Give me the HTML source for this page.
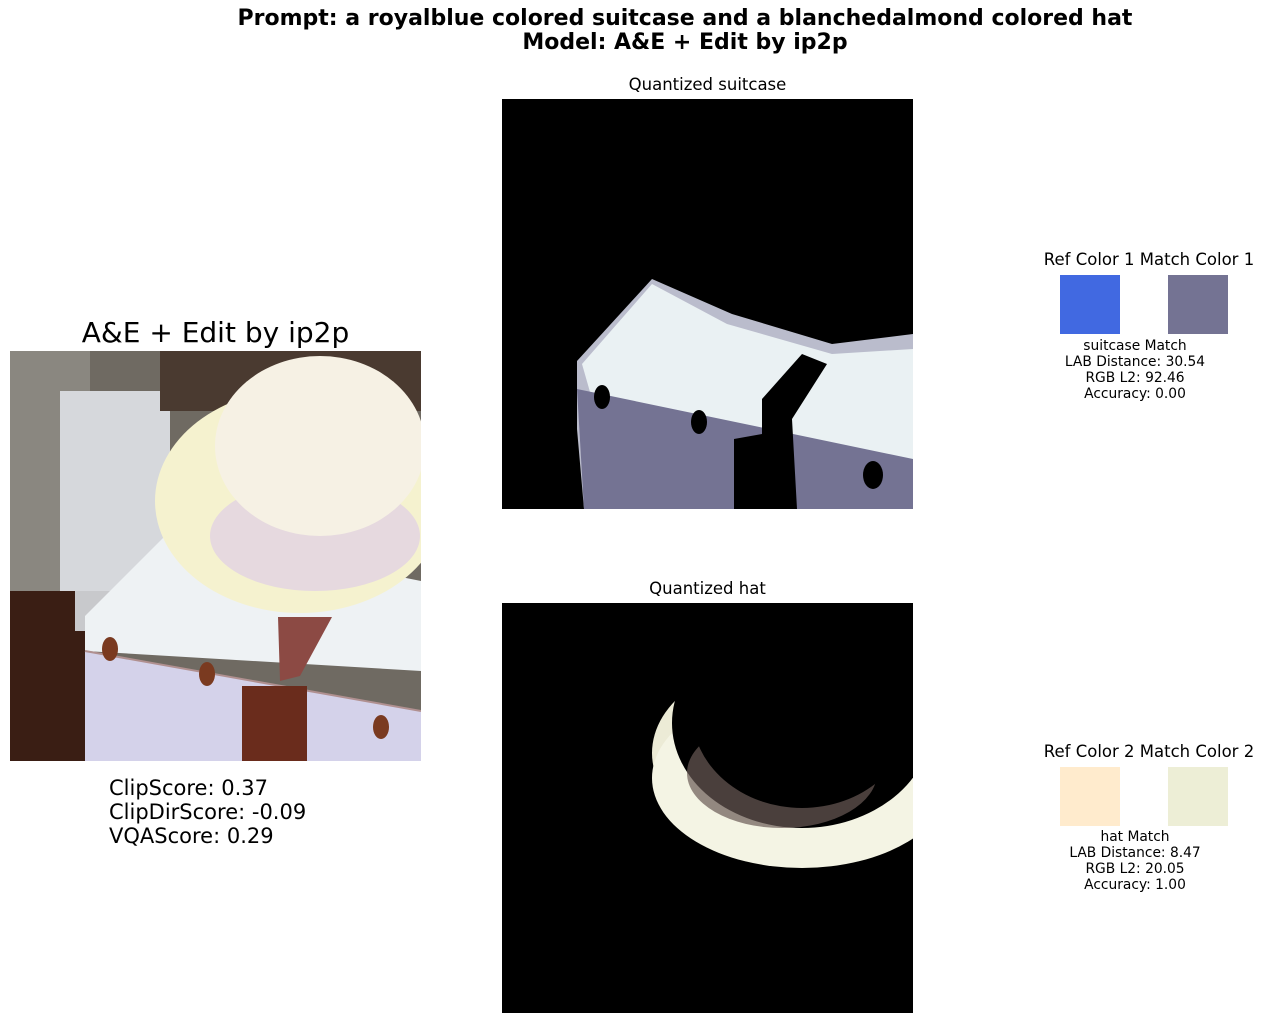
<!DOCTYPE html>
<html><head><meta charset="utf-8"><style>
body{margin:0;background:#fff;width:1265px;height:1023px;position:relative;overflow:hidden;font-family:"DejaVu Sans","Liberation Sans",sans-serif}
.t{position:absolute;white-space:nowrap;color:#000}
</style></head><body>
<div class="t" style="left:0;width:1370px;top:7px;text-align:center;font-weight:bold;font-size:22px;line-height:24px">Prompt: a royalblue colored suitcase and a blanchedalmond colored hat<br>Model: A&amp;E + Edit by ip2p</div>
<div class="t" style="left:10px;width:411px;top:316px;text-align:center;font-size:28px">A&amp;E + Edit by ip2p</div>

<svg style="position:absolute;left:10px;top:351px" width="411" height="410">
<rect width="411" height="410" fill="#6f6a62"/>
<rect x="0" y="0" width="80" height="240" fill="#8a8780"/>
<rect x="0" y="240" width="80" height="170" fill="#3a1e14"/>
<rect x="50" y="40" width="110" height="200" fill="#d6d8dc"/>
<rect x="65" y="240" width="80" height="40" fill="#c8c9cc"/>
<rect x="150" y="0" width="261" height="60" fill="#4a3a30"/>
<polygon points="75,265 160,180 411,230 411,320 75,300" fill="#eef2f4"/>
<polygon points="75,300 411,360 411,410 75,410" fill="#d4d2ea"/>
<line x1="75" y1="300" x2="411" y2="360" stroke="#b09090" stroke-width="2"/>
<ellipse cx="290" cy="150" rx="145" ry="112" fill="#f5f2cf"/>
<ellipse cx="305" cy="185" rx="105" ry="55" fill="#e6d9df"/>
<ellipse cx="310" cy="95" rx="105" ry="90" fill="#f6f1e4"/>
<polygon points="268,266 322,266 290,325 270,330" fill="#8c4a44"/>
<rect x="232" y="335" width="65" height="75" fill="#6a2c1c"/>
<ellipse cx="100" cy="298" rx="8" ry="12" fill="#7a3a20"/>
<ellipse cx="197" cy="323" rx="8" ry="12" fill="#7a3a20"/>
<ellipse cx="371" cy="376" rx="8" ry="12" fill="#7a3a20"/>
</svg>

<div class="t" style="left:109px;top:776px;font-size:21px;line-height:24px">ClipScore: 0.37<br>ClipDirScore: -0.09<br>VQAScore: 0.29</div>

<div class="t" style="left:502px;width:411px;top:75px;text-align:center;font-size:16.5px">Quantized suitcase</div>
<svg style="position:absolute;left:502px;top:99px" width="411" height="410">
<rect width="411" height="410" fill="#000"/>
<polygon points="75,262 150,180 230,215 330,245 411,235 411,410 82,410 75,330" fill="#babccc"/>
<polygon points="80,265 150,185 225,225 330,255 411,250 411,390 90,300" fill="#eaf1f3"/>
<polygon points="75,290 411,360 411,410 82,410" fill="#747393"/>
<polygon points="260,300 300,255 325,265 290,320 295,410 232,410 232,340 260,335" fill="#000"/>
<ellipse cx="100" cy="298" rx="8" ry="12" fill="#000"/>
<ellipse cx="197" cy="323" rx="8" ry="12" fill="#000"/>
<ellipse cx="371" cy="376" rx="10" ry="14" fill="#000"/>
</svg>

<div class="t" style="left:502px;width:411px;top:579px;text-align:center;font-size:16.5px">Quantized hat</div>
<svg style="position:absolute;left:502px;top:603px" width="411" height="410">
<rect width="411" height="410" fill="#000"/>
<ellipse cx="290" cy="150" rx="140" ry="95" fill="#ecebd6"/>
<ellipse cx="300" cy="175" rx="150" ry="90" fill="#f4f4e4"/>
<ellipse cx="300" cy="120" rx="130" ry="105" fill="#000"/>
<ellipse cx="280" cy="170" rx="95" ry="55" fill="#6a5a55" opacity="0.7"/>
<ellipse cx="300" cy="110" rx="110" ry="95" fill="#000"/>
</svg>

<div class="t" style="left:1034px;width:230px;top:250px;text-align:center;font-size:16.5px">Ref Color 1 Match Color 1</div>
<div style="position:absolute;left:1060px;top:275px;width:60px;height:59px;background:#4169e1"></div>
<div style="position:absolute;left:1168px;top:275px;width:60px;height:59px;background:#747393"></div>
<div class="t" style="left:1035px;width:200px;top:338px;text-align:center;font-size:13.8px;line-height:16px">suitcase Match<br>LAB Distance: 30.54<br>RGB L2: 92.46<br>Accuracy: 0.00</div>

<div class="t" style="left:1034px;width:230px;top:742px;text-align:center;font-size:16.5px">Ref Color 2 Match Color 2</div>
<div style="position:absolute;left:1060px;top:767px;width:60px;height:59px;background:#ffebcd"></div>
<div style="position:absolute;left:1168px;top:767px;width:60px;height:59px;background:#edeed6"></div>
<div class="t" style="left:1035px;width:200px;top:829px;text-align:center;font-size:13.8px;line-height:16px">hat Match<br>LAB Distance: 8.47<br>RGB L2: 20.05<br>Accuracy: 1.00</div>
</body></html>
